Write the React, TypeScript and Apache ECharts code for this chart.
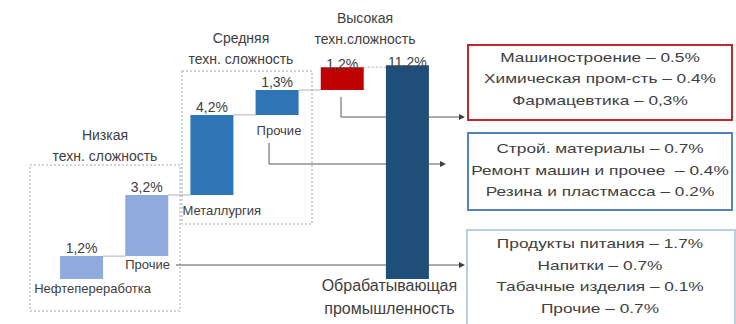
import React, { useEffect, useRef } from "react";
import * as echarts from "echarts";

// ---- data ----
const CATEGORIES = ["Нефтепереработка", "Прочие", "Металлургия", "Прочие", "", "Обрабатывающая\nпромышленность"];
const VALUES = [1.2, 3.2, 4.2, 1.3, 1.2, 11.2];
const IS_TOTAL = [false, false, false, false, false, true];
const VALUE_LABELS = ["1,2%", "3,2%", "4,2%", "1,3%", "1,2%", "11,2%"];
const GROUP_TITLES = ["Низкая\nтехн. сложность", "Средняя\nтехн. сложность", "Высокая\nтехн.сложность"];
const HIGH_TECH_ITEMS = ["Машиностроение – 0.5%", "Химическая пром-сть – 0.4%", "Фармацевтика – 0,3%"];
const MID_TECH_ITEMS = ["Строй. материалы – 0.7%", "Ремонт машин и прочее  – 0.4%", "Резина и пластмасса – 0.2%"];
const LOW_TECH_ITEMS = ["Продукты питания – 1.7%", "Напитки – 0.7%", "Табачные изделия – 0.1%", "Прочие – 0.7%"];

// ---- styles / layout ----
const BAR_COLORS = ["#8faadc", "#8faadc", "#2e75b6", "#2e75b6", "#c00000", "#1f4e79"];
const TEXT = "#404040";
const FONT = "'Liberation Sans', Arial, sans-serif";
const BAR_W = 43;
const LABEL_DIST = [1, 1, 1, 1, -4, -4];
const CAT_LAYOUT: any[] = [
  { anchor: "center", dx: 11, dy: 9 },
  { anchor: "left", dx: 0, dy: 8 },
  { anchor: "left", dx: -8, dy: 15 },
  { anchor: "left", dx: 1, dy: 16 },
  null,
  { anchor: "center", dx: -18, dy: 18 },
];

export default function App() {
  const ref = useRef<HTMLDivElement>(null);
  useEffect(() => {
    if (!ref.current) return;
    const chart = echarts.init(ref.current, null, { renderer: "svg" });
    const bases: number[] = [];
    let run = 0;
    VALUES.forEach((v, i) => {
      if (IS_TOTAL[i]) {
        bases.push(0);
      } else {
        bases.push(run);
        run += v;
      }
    });
    const cats = VALUES.map((_, i) => String(i));
    chart.setOption({
      animation: false,
      grid: { left: 49, width: 391, top: 50, bottom: 45 },
      xAxis: { type: "category", data: cats, show: false },
      yAxis: { type: "value", min: 0, max: 12, show: false },
      series: [
        {
          type: "bar",
          stack: "w",
          barWidth: BAR_W,
          itemStyle: { color: "transparent" },
          data: bases,
          silent: true,
        },
        {
          type: "bar",
          stack: "w",
          barWidth: BAR_W,
          data: VALUES.map((v, i) => ({
            value: v,
            itemStyle: { color: BAR_COLORS[i] },
            label: { distance: LABEL_DIST[i] },
          })),
          label: {
            show: true,
            position: "top",
            color: TEXT,
            fontSize: 14,
            fontFamily: FONT,
            formatter: (p: any) => VALUE_LABELS[p.dataIndex],
          },
        },
      ],
    });

    const px = (i: number, v: number) => chart.convertToPixel({ gridIndex: 0 }, [String(i), v]) as number[];
    const g: any[] = [];

    // connectors
    for (let i = 0; i < VALUES.length - 1; i++) {
      const top = bases[i] + VALUES[i];
      const a = px(i, top);
      const b = px(i + 1, top);
      g.push({
        type: "line",
        shape: { x1: a[0] + BAR_W / 2, y1: a[1], x2: b[0] - BAR_W / 2, y2: a[1] },
        style: { stroke: "#b0b0b0", lineWidth: 1, lineDash: i === VALUES.length - 2 ? [2, 2] : null },
      });
    }

    // category labels
    CATEGORIES.forEach((name, i) => {
      const L = CAT_LAYOUT[i];
      if (!L || !name) return;
      const p = px(i, bases[i]);
      const x = L.anchor === "center" ? p[0] + L.dx : p[0] - BAR_W / 2 + L.dx;
      const multi = name.indexOf("\n") >= 0;
      g.push({
        type: "text",
        x,
        y: p[1] + L.dy,
        style: {
          text: name,
          fill: TEXT,
          fontSize: multi ? 16 : 13,
          fontFamily: FONT,
          lineHeight: multi ? 23 : 15,
          textAlign: L.anchor === "center" ? "center" : "left",
          textVerticalAlign: "middle",
        },
      });
    });

    // group dotted boxes
    const dotted = { fill: "none", stroke: "#a6a6a6", lineWidth: 1, lineDash: [2, 2] };
    g.push({ type: "rect", shape: { x: 30, y: 165, width: 150, height: 146 }, style: dotted });
    g.push({ type: "rect", shape: { x: 182, y: 71, width: 130, height: 153 }, style: dotted });

    // group titles
    const titlePos = [
      [105, 145],
      [241, 48.5],
      [365, 28.5],
    ];
    GROUP_TITLES.forEach((t, i) => {
      g.push({
        type: "text",
        x: titlePos[i][0],
        y: titlePos[i][1],
        style: {
          text: t,
          fill: TEXT,
          fontSize: 14,
          fontFamily: FONT,
          lineHeight: 21,
          textAlign: "center",
          textVerticalAlign: "middle",
        },
      });
    });

    // arrows
    const arrow = (pts: number[][], tipX: number) => {
      const last = pts[pts.length - 1];
      g.push({ type: "polyline", shape: { points: pts }, style: { stroke: "#595959", lineWidth: 1, fill: "none" } });
      g.push({
        type: "polygon",
        shape: { points: [[last[0], last[1] - 3], [tipX, last[1]], [last[0], last[1] + 3]] },
        style: { fill: "#404040" },
      });
    };
    arrow([[341, 97], [341, 117], [459, 117]], 465);
    arrow([[269, 143], [269, 164], [440, 164]], 446);
    arrow([[176, 265], [459, 265]], 465);

    // info boxes
    const box = (x: number, y: number, w: number, h: number, stroke: string, items: string[], cy: number) => {
      g.push({ type: "rect", shape: { x, y, width: w, height: h }, style: { fill: "#fff", stroke, lineWidth: 2 } });
      g.push({
        type: "text",
        x: 600,
        y: cy,
        scaleX: 1.33,
        style: {
          text: items.join("\n"),
          fill: TEXT,
          fontSize: 13,
          fontFamily: FONT,
          lineHeight: 21.5,
          textAlign: "center",
          textVerticalAlign: "middle",
        },
      });
    };
    box(468, 45, 264, 75, "#c0282d", HIGH_TECH_ITEMS, 78.5);
    box(468, 133, 264, 77, "#4f81bd", MID_TECH_ITEMS, 170);
    box(467, 230, 268, 110, "#b9cde5", LOW_TECH_ITEMS, 276);

    chart.setOption({ graphic: g });
    return () => chart.dispose();
  }, []);
  return <div ref={ref} style={{ position: "fixed", left: 0, top: 0, width: 736, height: 324, background: "#fff" }} />;
}
